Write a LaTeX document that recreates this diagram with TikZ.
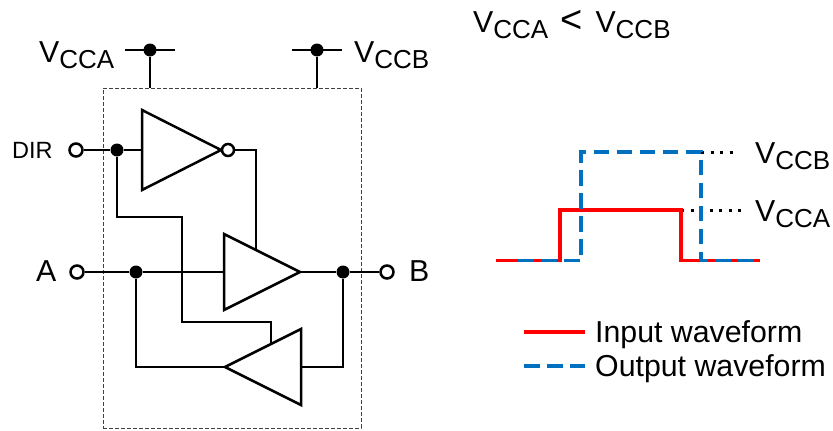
\documentclass[tikz,border=0pt]{standalone}
\usepackage{fontspec}
\setmainfont{Liberation Sans}
\usetikzlibrary{shapes.geometric, positioning}

\definecolor{outblue}{HTML}{0070C0}
\newcommand{\vsub}[1]{V\raisebox{-6pt}{\fontsize{26}{26}\selectfont #1}}

\begin{document}
\begin{tikzpicture}[
    x=1pt, y=-1pt,
    every node/.style={font=\fontsize{30.3}{32}\selectfont},
    wire/.style={line width=2.5pt},
    label/.style={anchor=base west, inner sep=0pt},
    pin/.style={draw, wire, circle, fill=white, minimum size=13pt, inner sep=0pt},
    joint/.style={circle, fill=black, minimum size=13pt, inner sep=0pt},
    gate/.style={draw, wire, isosceles triangle, isosceles triangle stretches,
        minimum width=76pt, minimum height=76pt, inner sep=0pt, outer sep=0pt},
    input/.style={red, line width=3.4pt},
    output/.style={outblue, line width=3.4pt, dash pattern=on 15.5pt off 7.5pt},
    level/.style={line width=3pt, dash pattern=on 3pt off 6.5pt}
]
\useasboundingbox (0,0) rectangle (833,431);

% Package outline
\node[draw, black!75, line width=1pt, dash pattern=on 4pt off 2pt, minimum width=258pt, minimum height=340pt, inner sep=0pt] (ic) at (232,258) {};

% Gates
\node[gate, minimum width=80pt, minimum height=79pt, anchor=apex] (inv) at (221,150) {};
\node[pin, minimum size=12pt] (bubble) at (228,150) {};
\node[gate, anchor=apex] (bufAB) at (300,272) {};
\node[gate, shape border rotate=180, anchor=apex] (bufBA) at (225,367) {};

% Supply rails
\node[joint] (railA) at (150,50) {};
\node[joint] (railB) at (317,50) {};
\coordinate (railAl) at (125,50);
\coordinate (railAr) at (175,50);
\coordinate (railBl) at (292,50);
\coordinate (railBr) at (342,50);
\coordinate (icA) at (150,88);
\coordinate (icB) at (317,88);

% Pins and joints
\node[pin] (dirPin) at (76,150) {};
\node[pin] (aPin) at (77,272) {};
\node[pin] (bPin) at (387,272) {};
\node[joint] (dirDot) at (117,150) {};
\node[joint] (aDot) at (136,272) {};
\node[joint] (bDot) at (343,272) {};
\coordinate (enAB) at (256,250);
\coordinate (enBA) at (271,344);
\coordinate (dirA) at (117,217);
\coordinate (dirB) at (182,217);
\coordinate (dirC) at (182,322);
\coordinate (dirD) at (271,322);

% Labels
\node[label] (vccaL) at (39,62) {\vsub{CCA}};
\node[label] (vccbL) at (354,62) {\vsub{CCB}};
\node[label, font=\fontsize{23.5}{24}\selectfont] (dirT) at (12,158) {DIR};
\node[label] (aT) at (36,281) {A};
\node[label] (bT) at (409,281) {B};
\node[label] (cond) at (473,32) {\vsub{CCA}\hspace{12.5pt}{\fontsize{38}{38}\selectfont<}\hspace{12.5pt}\vsub{CCB}};
\node[label] (vccbR) at (755,163) {\vsub{CCB}};
\node[label] (vccaR) at (755,221) {\vsub{CCA}};
\node[label] (inT) at (595,342) {Input waveform};
\node[label] (outT) at (595,376) {Output waveform};

% Wires
\draw[wire] (railAl) -- (railAr);
\draw[wire] (railBl) -- (railBr);
\draw[wire] (railA) -- (icA);
\draw[wire] (railB) -- (icB);
\draw[wire] (dirPin) -- (dirDot);
\draw[wire] (dirDot) -- (inv.lower side);
\draw[wire] (bubble) -| (enAB);
\draw[wire] (aPin) -- (aDot);
\draw[wire] (aDot) -- (bufAB.lower side);
\draw[wire] (bufAB.apex) -- (bDot);
\draw[wire] (bDot) -- (bPin);
\draw[wire] (dirDot) |- (dirB) -- (dirC) -| (enBA);
\draw[wire] (aDot) |- (bufBA.apex);
\draw[wire] (bDot) |- (bufBA.lower side);

% Waveforms
\coordinate (startW) at (496,260.5);
\coordinate (endW) at (760,260.5);
\coordinate (inA) at (560,260.5);
\coordinate (inB) at (560,210);
\coordinate (inC) at (681,210);
\coordinate (inD) at (681,260.5);
\coordinate (startO) at (518,260.5);
\coordinate (outA) at (581,260.5);
\coordinate (outB) at (581,152);
\coordinate (outC) at (701,152);
\coordinate (outD) at (701,260.5);
\coordinate (lvlB) at (738,152);
\coordinate (lvlA) at (744,210);
\draw[level] (outC) -- (lvlB);
\draw[level] (inC) -- (lvlA);
\draw[input] (startW) -- (inA) -- (inB) -- (inC) -- (inD) -- (endW);
\draw[output] (startO) -- (outA) -- (outB) -- (outC) -- (outD) -- (endW);

% Legend
\coordinate (keyA) at (524,332);
\coordinate (keyB) at (585,332);
\coordinate (keyC) at (524,366);
\coordinate (keyD) at (585,366);
\draw[input] (keyA) -- (keyB);
\draw[output] (keyC) -- (keyD);

\end{tikzpicture}
\end{document}
